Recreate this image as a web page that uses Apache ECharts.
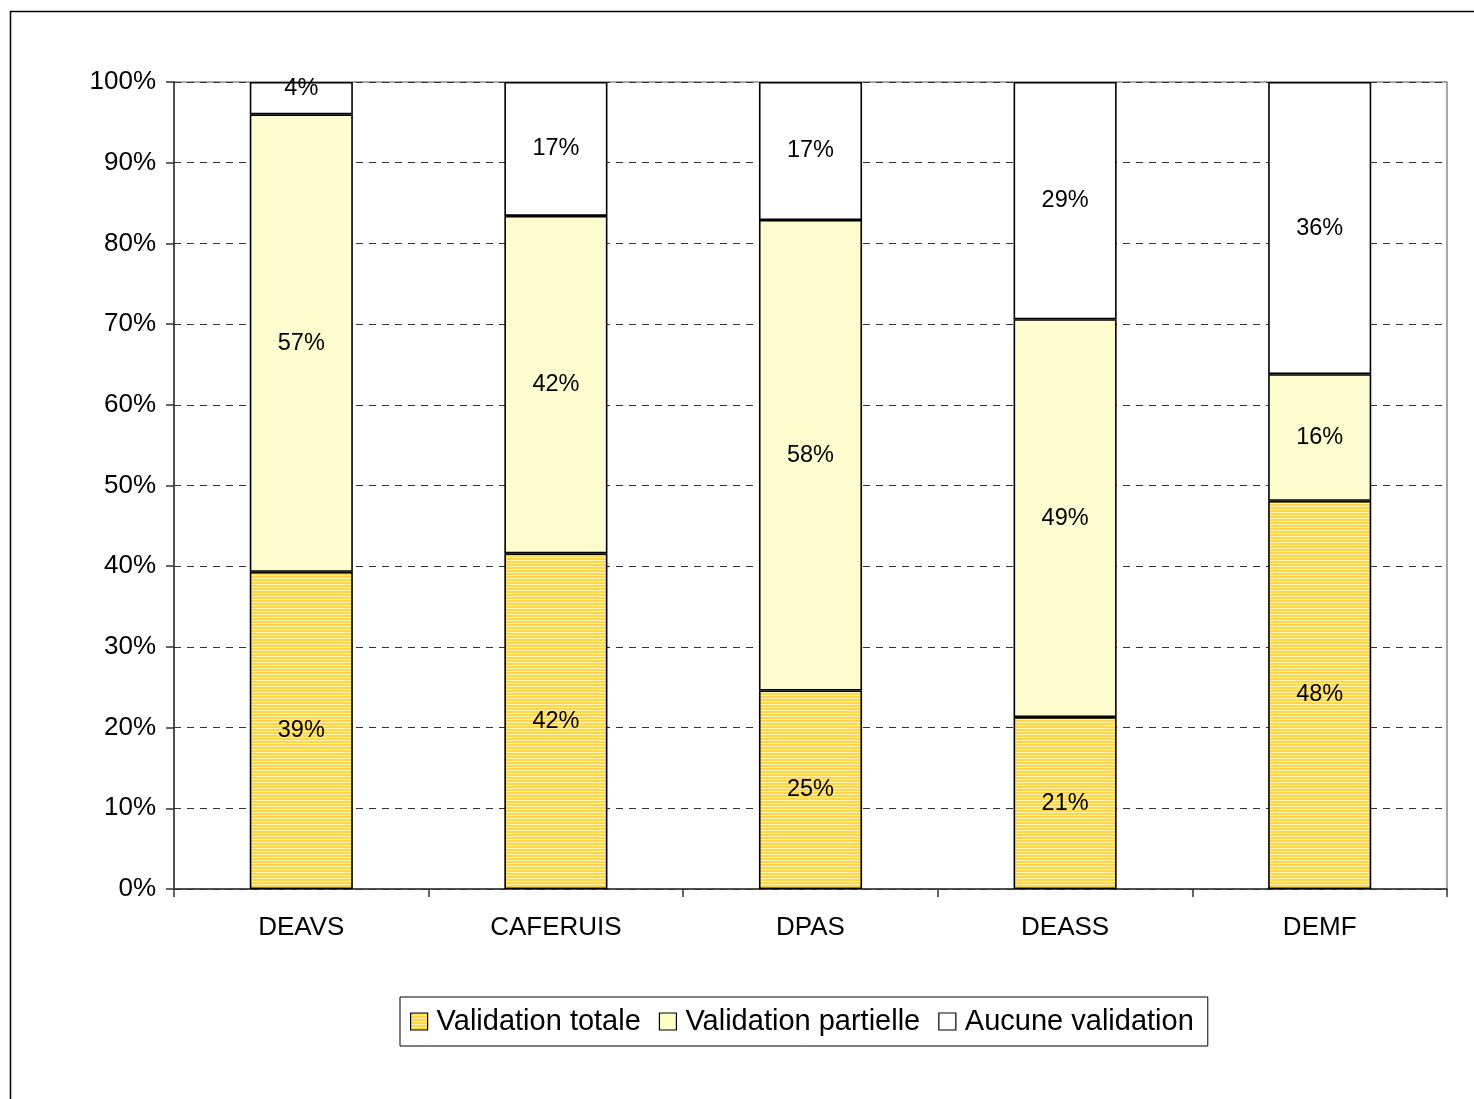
<!DOCTYPE html>
<html>
<head>
<meta charset="utf-8">
<script src="https://cdn.jsdelivr.net/npm/echarts@6/dist/echarts.min.js"></script>
<style>html,body{margin:0;padding:0;background:#fff}#c{width:1474px;height:1099px}</style>
</head>
<body>
<div id="c"></div>
<script>
const categories = ['DEAVS', 'CAFERUIS', 'DPAS', 'DEASS', 'DEMF'];
const seriesNames = ['Validation totale', 'Validation partielle', 'Aucune validation'];
const validationTotale = [39.3, 41.6, 24.6, 21.3, 48.1];
const validationPartielle = [56.7, 41.8, 58.3, 49.3, 15.7];
const aucuneValidation = [4.0, 16.6, 17.1, 29.4, 36.2];
const yTicks = [0, 10, 20, 30, 40, 50, 60, 70, 80, 90, 100];

function stripePattern() {
  const c = document.createElement('canvas');
  c.width = 4; c.height = 3;
  const g = c.getContext('2d');
  g.fillStyle = '#FFD54A'; g.fillRect(0, 0, 4, 2);
  g.fillStyle = '#FFF3B8'; g.fillRect(0, 2, 4, 1);
  return { image: c, repeat: 'repeat' };
}
function hatchPattern() {
  const c = document.createElement('canvas');
  c.width = 4; c.height = 4;
  const g = c.getContext('2d');
  g.fillStyle = '#FFFFD2'; g.fillRect(0, 0, 4, 4);
  g.fillStyle = '#FFFF9A';
  for (let i = 0; i < 4; i++) g.fillRect(i, 3 - i, 1, 1);
  return { image: c, repeat: 'repeat' };
}

const FONT = 'Arial, "Liberation Sans", sans-serif';
const fills = [stripePattern(), hatchPattern(), '#FFFFFF'];
const dataSets = [validationTotale, validationPartielle, aucuneValidation];

const chart = echarts.init(document.getElementById('c'), null, { renderer: 'canvas' });
chart.setOption({
  animation: false,
  backgroundColor: '#fff',
  graphic: [{
    type: 'rect', left: 8, top: 9, z: 100,
    shape: { width: 1520, height: 1150 },
    style: { fill: 'none', stroke: '#000', lineWidth: 1.5 }
  }],
  grid: { left: 174, right: 27, top: 82, bottom: 210, show: true, borderColor: '#8c8c8c', borderWidth: 1.5, backgroundColor: 'transparent' },
  legend: {
    left: 400, top: 997,
    padding: [10, 14, 10, 10],
    itemGap: 18,
    itemWidth: 17, itemHeight: 17,
    icon: 'rect',
    borderColor: '#000', borderWidth: 1,
    textStyle: { fontFamily: FONT, fontSize: 29, color: '#000', padding: [0, 0, 0, 4] },
    itemStyle: { borderColor: '#000', borderWidth: 1.2 },
    data: seriesNames
  },
  xAxis: {
    type: 'category',
    data: categories,
    axisLine: { lineStyle: { color: '#333', width: 1.5 } },
    axisTick: { show: true, length: 8, lineStyle: { color: '#333', width: 1.5 } },
    axisLabel: { fontFamily: FONT, fontSize: 26, color: '#000', margin: 26 }
  },
  yAxis: {
    type: 'value',
    min: yTicks[0], max: yTicks[yTicks.length - 1], interval: 10,
    axisLine: { show: true, lineStyle: { color: '#333', width: 1.5 } },
    axisTick: { show: true, length: 8, lineStyle: { color: '#333', width: 1.5 } },
    axisLabel: { fontFamily: FONT, fontSize: 26, color: '#000', margin: 18, formatter: '{value}%' },
    splitLine: { show: true, lineStyle: { color: '#333', width: 1, type: [7, 6] } }
  },
  series: seriesNames.map((name, i) => ({
    name: name,
    type: 'bar',
    stack: 'total',
    barWidth: '40.5%',
    data: dataSets[i].map(v => v < 6 ? { value: v, label: { offset: [0, -10] } } : v),
    itemStyle: { color: fills[i], borderColor: '#000', borderWidth: 1.6 },
    label: {
      show: true, position: 'inside',
      fontFamily: FONT, fontSize: 23.5, color: '#000',
      formatter: p => Math.round(p.value) + '%'
    }
  }))
});
</script>
</body>
</html>
